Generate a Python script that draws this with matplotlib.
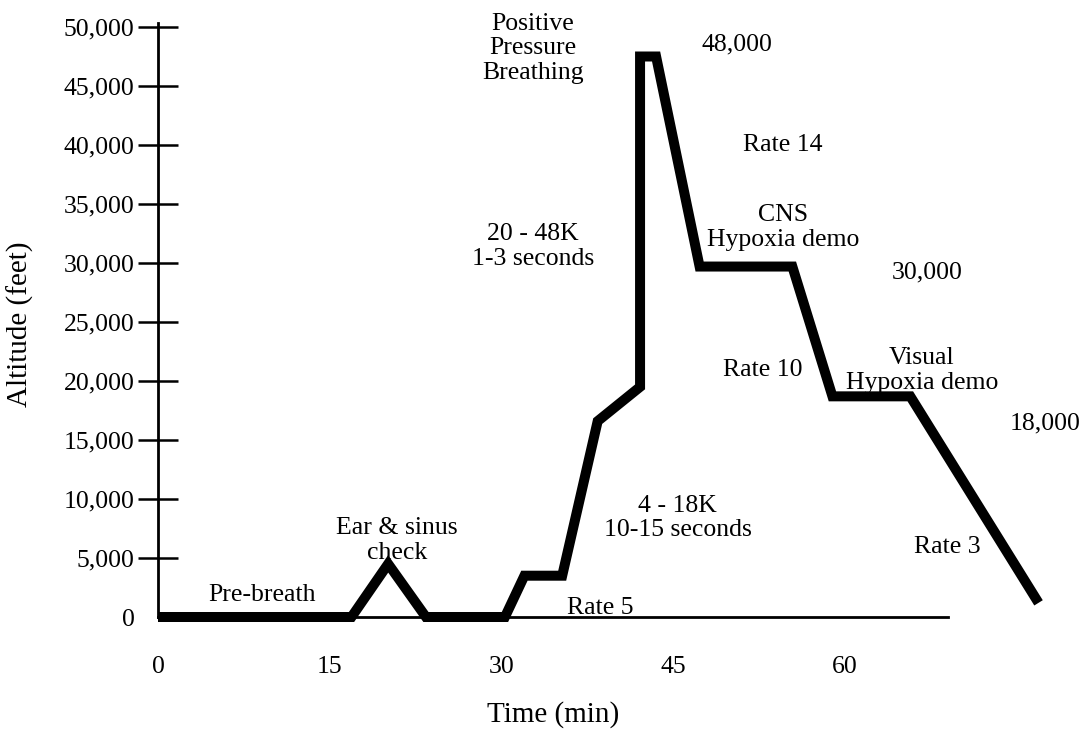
import matplotlib
matplotlib.use('Agg')
import matplotlib.pyplot as plt
from matplotlib.ticker import FuncFormatter

# profile of the chamber flight
time_min = [0, 16.9, 20.1, 23.4, 30.3, 32.0, 35.3, 38.4, 42.1, 42.1, 43.5,
            47.3, 55.4, 58.9, 65.7, 76.9]
altitude_ft = [0, 0, 4500, 0, 0, 3500, 3500, 16600, 19500, 47500, 47500,
               29700, 29700, 18700, 18700, 1200]

y_ticks = [0, 5000, 10000, 15000, 20000, 25000, 30000, 35000, 40000, 45000, 50000]
x_ticks = [0, 15, 30, 45, 60]

# (text, time, altitude)
notes = [
    ('Positive\nPressure\nBreathing', 32.75, 48200),
    ('48,000', 50.6, 48500),
    ('Rate 14', 54.6, 40000),
    ('CNS\nHypoxia demo', 54.6, 33000),
    ('30,000', 67.2, 29200),
    ('20 - 48K\n1-3 seconds', 32.75, 31400),
    ('Visual\nHypoxia demo', 66.7, 20900),
    ('18,000', 77.5, 16400),
    ('Rate 10', 52.8, 20900),
    ('Ear & sinus\ncheck', 20.9, 6500),
    ('Pre-breath', 9.1, 1900),
    ('4 - 18K\n10-15 seconds', 45.4, 8400),
    ('Rate 3', 68.9, 5900),
]

plt.rcParams['font.family'] = ['Liberation Serif', 'DejaVu Serif']
fs = 18.5

fig = plt.figure(figsize=(10.83, 7.29), dpi=100)
ax = fig.add_axes([0.14589, 0.12935, 0.8564, 0.8498])
ax.set_xlim(0, 81)
ax.set_ylim(-1500, 51000)

ax.plot(time_min, altitude_ft, color='black', lw=7.2,
        solid_joinstyle='miter', solid_capstyle='butt', zorder=3)

for s, t, a in notes:
    ax.text(t, a, s, ha='center', va='center', fontsize=fs, linespacing=1.15)
ax.text(38.6, 760, 'Rate 5', ha='center', va='center', fontsize=fs, zorder=1)

ax.spines['top'].set_visible(False)
ax.spines['right'].set_visible(False)
ax.spines['left'].set_linewidth(2)
ax.spines['bottom'].set_linewidth(2)
ax.spines['bottom'].set_position(('data', 0))
ax.spines['left'].set_bounds(0, 50300)
ax.spines['bottom'].set_bounds(0, 69.0)

ax.set_yticks(y_ticks)
ax.yaxis.set_major_formatter(FuncFormatter(lambda v, p: f'{int(v):,}'))
ax.tick_params(axis='y', direction='inout', length=28.8, width=1.8,
               pad=2.5, labelsize=fs)
ax.yaxis.get_major_ticks()[0].tick1line.set_visible(False)

ax.set_xticks(x_ticks)
ax.tick_params(axis='x', length=0, pad=28, labelsize=fs)

fig.text(0.0185, 0.5556, 'Altitude (feet)', rotation=90, ha='center',
         va='center', fontsize=21)
fig.text(0.5106, 0.0192, 'Time (min)', ha='center', va='center', fontsize=21)

fig.savefig('out.png', dpi=100)
